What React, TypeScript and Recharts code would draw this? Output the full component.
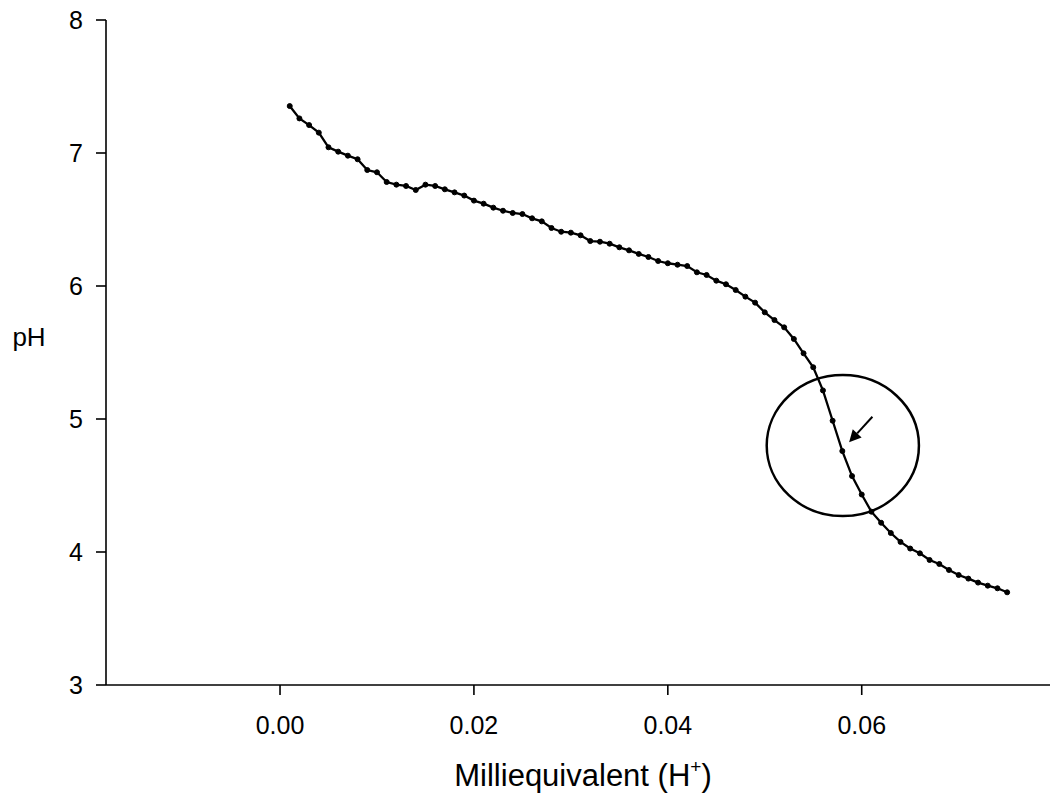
import React from 'react';
import {
  LineChart,
  Line,
  XAxis,
  YAxis,
  ReferenceArea,
  Label,
} from 'recharts';

// Titration curve: acid added (meq H+) vs. measured pH
const meqH = [
  0.001, 0.002, 0.003, 0.004, 0.005, 0.006, 0.007, 0.008, 0.009, 0.01,
  0.011, 0.012, 0.013, 0.014, 0.015, 0.016, 0.017, 0.018, 0.019, 0.02,
  0.021, 0.022, 0.023, 0.024, 0.025, 0.026, 0.027, 0.028, 0.029, 0.03,
  0.031, 0.032, 0.033, 0.034, 0.035, 0.036, 0.037, 0.038, 0.039, 0.04,
  0.041, 0.042, 0.043, 0.044, 0.045, 0.046, 0.047, 0.048, 0.049, 0.05,
  0.051, 0.052, 0.053, 0.054, 0.055, 0.056, 0.057, 0.058, 0.059, 0.06,
  0.061, 0.062, 0.063, 0.064, 0.065, 0.066, 0.067, 0.068, 0.069, 0.07,
  0.071, 0.072, 0.073, 0.074, 0.075,
];

const phValues = [
  7.353, 7.26, 7.21, 7.153, 7.043, 7.01, 6.98, 6.953, 6.872, 6.855,
  6.782, 6.762, 6.752, 6.722, 6.762, 6.752, 6.727, 6.704, 6.68, 6.642,
  6.619, 6.589, 6.566, 6.549, 6.541, 6.509, 6.486, 6.436, 6.408, 6.401,
  6.381, 6.338, 6.333, 6.318, 6.291, 6.268, 6.241, 6.218, 6.188, 6.171,
  6.16, 6.15, 6.103, 6.083, 6.04, 6.013, 5.97, 5.92, 5.875, 5.802,
  5.744, 5.689, 5.602, 5.494, 5.389, 5.215, 4.987, 4.759, 4.571, 4.432,
  4.303, 4.22, 4.143, 4.076, 4.026, 3.99, 3.94, 3.91, 3.865, 3.827,
  3.8, 3.77, 3.747, 3.727, 3.697,
];

const xTicks = [0, 0.02, 0.04, 0.06];
const yTicks = [3, 4, 5, 6, 7, 8];
const xDomain = [-0.01795, 0.07942];
const yDomain = [3, 8];

// Circled region around the equivalence point
const circleX = [0.0502, 0.0659];
const circleY = [4.27, 5.33];

// Arrow box: the arrow runs from the upper-right corner to the lower-left corner
const arrowX = [0.0587, 0.0611];
const arrowY = [4.825, 5.017];

const data = meqH.map((x, i) => ({ x, ph: phValues[i] }));

const FONT = '"Liberation Sans", Arial, sans-serif';

const EllipseShape = (props: any) => {
  const { x, y, width, height } = props;
  return (
    <ellipse
      cx={x + width / 2}
      cy={y + height / 2}
      rx={width / 2}
      ry={height / 2}
      fill="none"
      stroke="#000"
      strokeWidth={2.5}
    />
  );
};

const ArrowShape = (props: any) => {
  const { x, y, width, height } = props;
  const x1 = x + width;
  const y1 = y;
  const x2 = x;
  const y2 = y + height;
  const dx = x2 - x1;
  const dy = y2 - y1;
  const len = Math.sqrt(dx * dx + dy * dy) || 1;
  const ux = dx / len;
  const uy = dy / len;
  const headLen = 12;
  const headHalf = 6;
  const bx = x2 - ux * headLen;
  const by = y2 - uy * headLen;
  const px = -uy;
  const py = ux;
  return (
    <g>
      <line x1={x1} y1={y1} x2={bx} y2={by} stroke="#000" strokeWidth={2} />
      <polygon
        points={`${x2},${y2} ${bx + px * headHalf},${by + py * headHalf} ${bx - px * headHalf},${by - py * headHalf}`}
        fill="#000"
      />
    </g>
  );
};

const XTitle = (props: any) => {
  const { viewBox } = props;
  const cx = viewBox.x + viewBox.width / 2 + 5;
  return (
    <text
      x={cx}
      y={786}
      textAnchor="middle"
      fontFamily={FONT}
      fontSize={31}
      fill="#000"
    >
      Milliequivalent (H
      <tspan fontSize={19} dy={-13}>+</tspan>
      <tspan dy={13}>)</tspan>
    </text>
  );
};

const YTitle = (props: any) => {
  const { viewBox } = props;
  const cy = viewBox.y + viewBox.height / 2 - 16;
  return (
    <text
      x={29}
      y={cy}
      dy="0.36em"
      textAnchor="middle"
      fontFamily={FONT}
      fontSize={26}
      fill="#000"
    >
      pH
    </text>
  );
};

export default function App() {
  return (
    <div style={{ position: 'absolute', left: 0, top: 0, background: '#fff' }}>
      <LineChart
        width={1057}
        height={797}
        data={data}
        margin={{ top: 20, right: 7, bottom: 52, left: 46 }}
      >
        <XAxis
          dataKey="x"
          type="number"
          domain={xDomain}
          allowDataOverflow
          ticks={xTicks}
          tickFormatter={(v: number) => v.toFixed(2)}
          height={60}
          tickSize={10}
          tickMargin={21}
          stroke="#000"
          strokeWidth={1.6}
          tick={{ fill: '#000', fontSize: 25, fontFamily: FONT }}
          tickLine={{ stroke: '#000', strokeWidth: 1.6 }}
        >
          <Label content={<XTitle />} />
        </XAxis>
        <YAxis
          type="number"
          domain={yDomain}
          ticks={yTicks}
          allowDataOverflow
          width={60}
          tickSize={10}
          tickMargin={13}
          stroke="#000"
          strokeWidth={1.6}
          tick={{ fill: '#000', fontSize: 25, fontFamily: FONT }}
          tickLine={{ stroke: '#000', strokeWidth: 1.6 }}
        >
          <Label content={<YTitle />} />
        </YAxis>
        <Line
          type="linear"
          dataKey="ph"
          stroke="#000"
          strokeWidth={2.3}
          dot={{ r: 2.5, fill: '#000', stroke: '#000', strokeWidth: 1 }}
          activeDot={false}
          isAnimationActive={false}
        />
        <ReferenceArea
          x1={circleX[0]}
          x2={circleX[1]}
          y1={circleY[0]}
          y2={circleY[1]}
          ifOverflow="visible"
          shape={<EllipseShape />}
        />
        <ReferenceArea
          x1={arrowX[0]}
          x2={arrowX[1]}
          y1={arrowY[0]}
          y2={arrowY[1]}
          ifOverflow="visible"
          shape={<ArrowShape />}
        />
      </LineChart>
    </div>
  );
}
